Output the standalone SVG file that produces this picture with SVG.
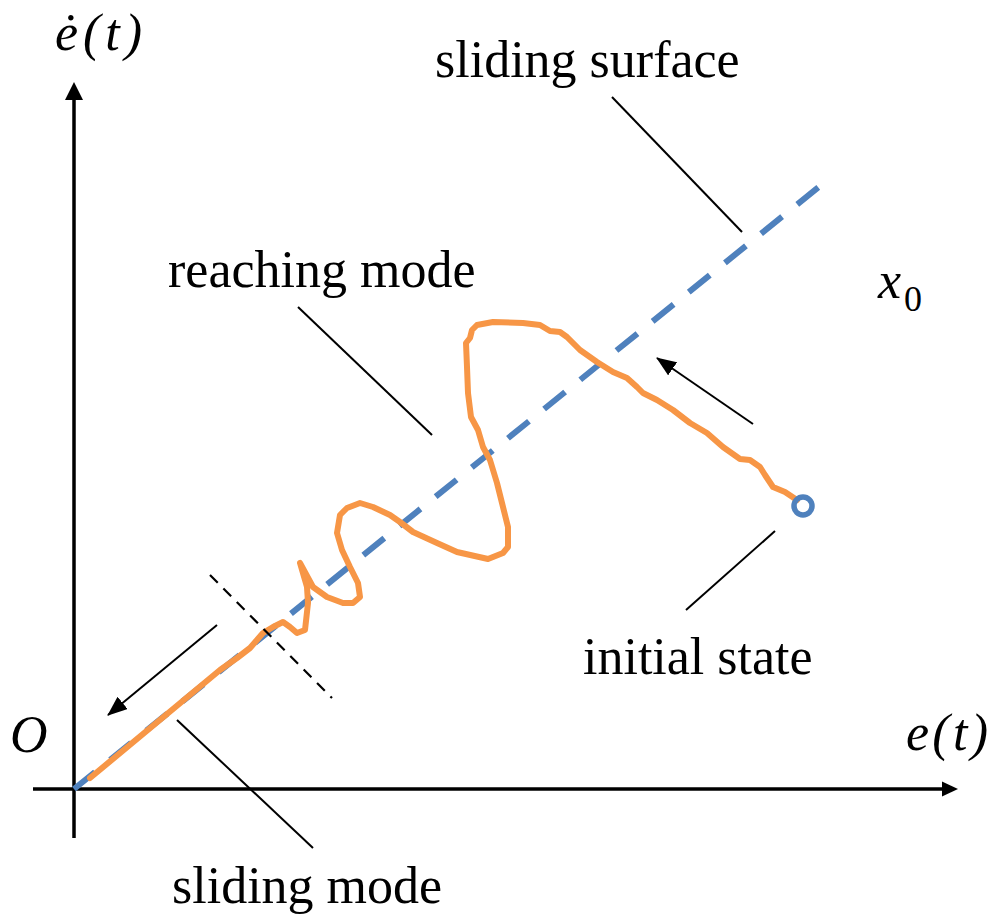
<svg xmlns="http://www.w3.org/2000/svg" width="995" height="921" viewBox="0 0 995 921">
<style>
.axis{stroke:#000;stroke-width:3.5;fill:none}
.lead{stroke:#000;stroke-width:2;fill:none}
.lbl{font-family:"Liberation Serif","Times New Roman",serif;font-size:52px;fill:#000}
.math{font-family:"Liberation Serif","Times New Roman",serif;font-style:italic;font-size:52px;fill:#000}
.surf{stroke:#4F81BD;stroke-width:6;stroke-dasharray:27 19.5;fill:none}
.traj{stroke:#F79646;stroke-width:6;fill:none;stroke-linejoin:round;stroke-linecap:round}
</style>
<defs>
<marker id="ah" markerWidth="20" markerHeight="16" refX="19" refY="8" orient="auto" markerUnits="userSpaceOnUse">
<path d="M0,0 L20,8 L0,16 Z" fill="#000"/>
</marker>
</defs>
<rect width="995" height="921" fill="#fff"/>
<g id="axes">
<line class="axis" x1="74" y1="838" x2="74" y2="98"/>
<path d="M74,82 L65,100 L83,100 Z" fill="#000"/>
<line class="axis" x1="33" y1="789" x2="944" y2="789"/>
<path d="M958,789 L942,781.5 L942,796.5 Z" fill="#000"/>
</g>
<g id="sliding-surface">
<line class="surf" x1="74" y1="789" x2="820" y2="186"/>
</g>
<g id="trajectory">
<polyline class="traj" points="797,500 785,492 773,487 765,475 760,467 750,460 740,459 723,447 707,433 690,423 673,410 657,400 643,393 637,387 627,378 613,372 597,362 580,350 567,337 560,332 550,331 540,325 523,323 493,322 477,325 472,330 470,338 466,343 467,367 468,393 471,417 478,430 483,447 490,460 497,483 503,507 508,527 508,547 503,553 488,559 457,552 437,543 413,532 400,522 390,515 373,507 360,503 347,508 340,515 337,533 342,550 350,567 358,583 360,597 353,603 343,603 327,597 313,587 300,563 307,587 308,603 305,630 297,633 290,627 283,622 273,627 263,633 250,648 237,658 220,670 90,778"/>
</g>
<g id="initial-state">
<circle cx="803" cy="506" r="9" fill="none" stroke="#4F81BD" stroke-width="5.5"/>
</g>
<g id="connectors">
<line class="lead" x1="612" y1="97" x2="742" y2="232"/>
<line class="lead" x1="298" y1="307" x2="432" y2="435"/>
<line class="lead" x1="775" y1="531" x2="686" y2="610"/>
<line class="lead" x1="177" y1="720" x2="313" y2="848"/>
<line x1="210" y1="575" x2="332" y2="698" stroke="#000" stroke-width="2.2" stroke-dasharray="11 8"/>
<line class="lead" x1="217" y1="625" x2="108" y2="715" marker-end="url(#ah)"/>
<line class="lead" x1="753" y1="424" x2="657" y2="358" marker-end="url(#ah)"/>
</g>
<g id="labels">
<text class="math" x="55" y="50" textLength="87" lengthAdjust="spacing">ė(t)</text>
<text class="math" x="906" y="750" textLength="82" lengthAdjust="spacing">e(t)</text>
<text class="math" x="10" y="752">O</text>
<text class="math" x="878" y="298">x</text>
<text class="lbl" x="904" y="311" style="font-size:36px">0</text>
<text class="lbl" x="435" y="77">sliding surface</text>
<text class="lbl" x="168" y="287">reaching mode</text>
<text class="lbl" x="583" y="674">initial state</text>
<text class="lbl" x="172" y="903">sliding mode</text>
</g>
</svg>
